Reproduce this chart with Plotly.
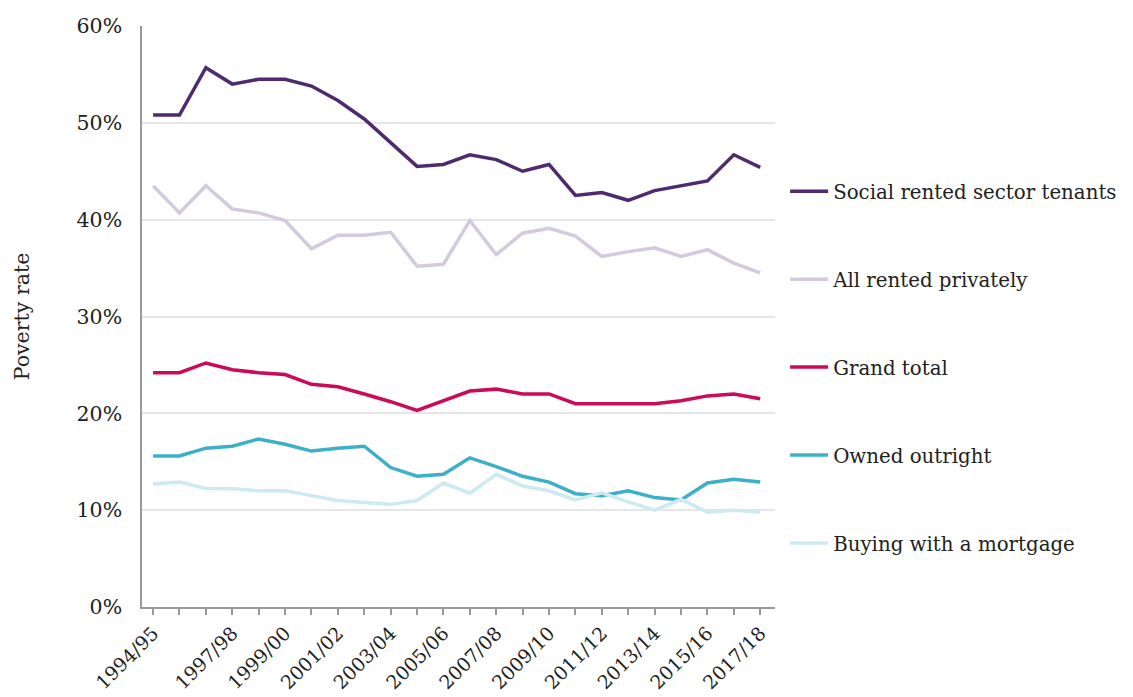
import plotly.graph_objects as go

years = ['1994/95', '1995/96', '1996/97', '1997/98', '1998/99', '1999/00', '2000/01', '2001/02',
         '2002/03', '2003/04', '2004/05', '2005/06', '2006/07', '2007/08', '2008/09', '2009/10',
         '2010/11', '2011/12', '2012/13', '2013/14', '2014/15', '2015/16', '2016/17', '2017/18']
shown_labels = ['1994/95', '1997/98', '1999/00', '2001/02', '2003/04', '2005/06', '2007/08',
                '2009/10', '2011/12', '2013/14', '2015/16', '2017/18']

social_rented = [50.8, 50.8, 55.7, 54.0, 54.5, 54.5, 53.8, 52.3, 50.4, 48.0, 45.5, 45.7,
                 46.7, 46.2, 45.0, 45.7, 42.5, 42.8, 42.0, 43.0, 43.5, 44.0, 46.7, 45.4]
rented_privately = [43.5, 40.7, 43.5, 41.1, 40.7, 39.9, 37.0, 38.4, 38.4, 38.7, 35.2, 35.4,
                    39.9, 36.4, 38.6, 39.1, 38.3, 36.2, 36.7, 37.1, 36.2, 36.9, 35.5, 34.5]
grand_total = [24.2, 24.2, 25.2, 24.5, 24.2, 24.0, 23.0, 22.75, 22.0, 21.2, 20.3, 21.3,
               22.3, 22.5, 22.0, 22.0, 21.0, 21.0, 21.0, 21.0, 21.3, 21.8, 22.0, 21.5]
owned_outright = [15.6, 15.6, 16.4, 16.6, 17.35, 16.8, 16.1, 16.4, 16.6, 14.4, 13.5, 13.7,
                  15.4, 14.5, 13.5, 12.9, 11.7, 11.5, 12.0, 11.3, 11.05, 12.8, 13.2, 12.9]
mortgage = [12.7, 12.9, 12.25, 12.2, 12.0, 12.0, 11.5, 11.0, 10.8, 10.6, 11.0, 12.8,
            11.75, 13.7, 12.5, 12.0, 11.05, 11.8, 10.85, 10.0, 11.1, 9.8, 10.0, 9.8]

series = [
    ('Social rented sector tenants', social_rented, '#4e2a6e'),
    ('All rented privately', rented_privately, '#d4cadd'),
    ('Grand total', grand_total, '#cc0a5a'),
    ('Owned outright', owned_outright, '#3cb0c8'),
    ('Buying with a mortgage', mortgage, '#cdeaf0'),
]

FONT = 'DejaVu Serif'
FS = 20.5

fig = go.Figure()
for i, (name, vals, col) in enumerate(series):
    fig.add_trace(go.Scatter(x=years, y=vals, name=name, mode='lines',
                             legendgroup=str(i),
                             line=dict(color=col, width=3.5)))

# the page body adds ~8px offset, margins compensate for it
fig.update_layout(
    width=1133, height=697,
    margin=dict(l=134, r=366, t=18, b=98, autoexpand=False),
    plot_bgcolor='white', paper_bgcolor='white',
    font=dict(family=FONT, size=FS, color='#222222'),
    legend=dict(x=1.016, y=0.749, xanchor='left', yanchor='top',
                tracegroupgap=59.2, itemwidth=38,
                font=dict(family=FONT, size=19.8, color='#222222')),
)

fig.update_xaxes(
    type='category', range=[-0.42, 23.56], automargin=False,
    tickmode='array', tickvals=years,
    ticktext=[y if y in shown_labels else '' for y in years],
    tickangle=-45, ticks='outside', ticklen=6, tickcolor='#999999', tickwidth=1.5,
    tickfont=dict(family=FONT, size=19),
    showline=True, linecolor='#999999', linewidth=1.5,
    showgrid=False,
)
fig.update_yaxes(
    range=[0, 60], tickvals=[0, 10, 20, 30, 40, 50, 60], automargin=False,
    ticktext=['0%', '10%', '20%', '30%', '40%', '50%', '60%'],
    showgrid=True, gridcolor='#e6e6e6', gridwidth=1.5,
    showline=True, linecolor='#999999', linewidth=1.5,
    ticklabelstandoff=14, zeroline=False,
    title=dict(text='Poverty rate', standoff=41, font=dict(family=FONT, size=FS)),
)

fig.write_html('out.html')
